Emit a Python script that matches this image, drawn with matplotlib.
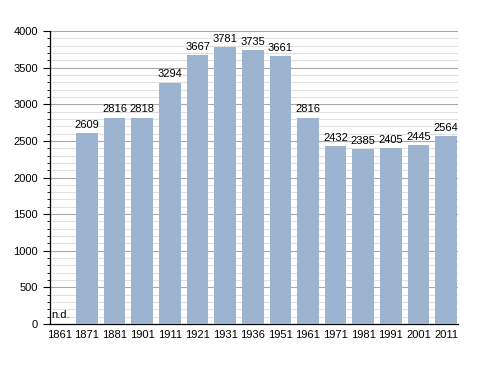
import matplotlib
matplotlib.use("Agg")
import matplotlib.pyplot as plt
from matplotlib.ticker import MultipleLocator

years = ["1861", "1871", "1881", "1901", "1911", "1921", "1931", "1936",
         "1951", "1961", "1971", "1981", "1991", "2001", "2011"]
population = [0, 2609, 2816, 2818, 3294, 3667, 3781, 3735,
              3661, 2816, 2432, 2385, 2405, 2445, 2564]
labels = ["n.d.", "2609", "2816", "2818", "3294", "3667", "3781", "3735",
          "3661", "2816", "2432", "2385", "2405", "2445", "2564"]

plt.rcParams['font.family'] = ['Liberation Sans', 'DejaVu Sans']
fs = 8

fig = plt.figure(figsize=(4.88, 3.73), dpi=100)
ax = fig.add_axes([50 / 488, 49 / 373, 408 / 488, 293 / 373])

x = list(range(len(years)))
ax.bar(x, population, width=0.78, color='#9cb4cf', zorder=3)

for xi, v, lab in zip(x, population, labels):
    if lab == "n.d.":
        ax.text(xi - 0.3, 60, lab, ha='left', va='bottom', fontsize=fs, zorder=4)
    else:
        ax.text(xi, v + 45, lab, ha='center', va='bottom', fontsize=fs, zorder=4)

ax.set_xlim(-0.34, len(years) - 1 + 0.43)
ax.set_ylim(0, 4000)
ax.set_xticks(x)
ax.set_xticklabels(years, fontsize=fs)
ax.yaxis.set_major_locator(MultipleLocator(500))
ax.yaxis.set_minor_locator(MultipleLocator(100))
ax.tick_params(axis='y', which='major', labelsize=fs, length=5, width=0.8)
ax.tick_params(axis='y', which='minor', length=2.5, width=0.6)
ax.tick_params(axis='x', length=0, pad=4)

ax.grid(axis='y', which='major', color='#a8a8a8', linewidth=0.8, zorder=0)
ax.grid(axis='y', which='minor', color='#e0e0e0', linewidth=0.8, zorder=0)
ax.set_axisbelow(True)

for s in ['top', 'right']:
    ax.spines[s].set_visible(False)
ax.spines['left'].set_linewidth(0.9)
ax.spines['bottom'].set_linewidth(0.9)

fig.savefig("out.png", dpi=100)
